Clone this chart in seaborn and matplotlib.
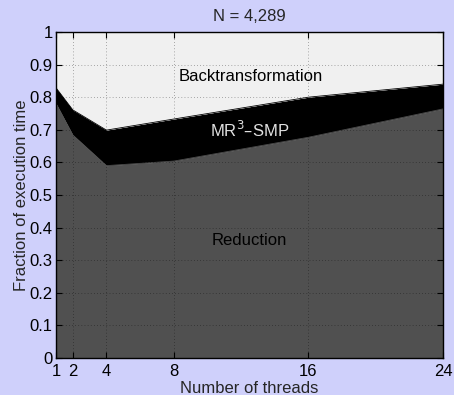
import matplotlib
matplotlib.use("Agg")
import matplotlib.pyplot as plt
import seaborn as sns
import numpy as np
import pandas as pd

# Fraction of total execution time per phase, N = 4,289
threads = [1, 2, 4, 8, 16, 24]
reduction = [0.781, 0.684, 0.590, 0.604, 0.677, 0.764]
mr3_smp = [0.048, 0.077, 0.109, 0.129, 0.123, 0.076]
x_ticks = [1, 2, 4, 8, 16, 24]
y_ticks = [0, 0.1, 0.2, 0.3, 0.4, 0.5, 0.6, 0.7, 0.8, 0.9, 1]
y_tick_labels = ["0", "0.1", "0.2", "0.3", "0.4", "0.5", "0.6", "0.7", "0.8", "0.9", "1"]

sns.set_style("ticks")
plt.rcParams["font.family"] = ["Liberation Sans", "DejaVu Sans"]

fs = 12
bg = "#cfd0fb"
fig = plt.figure(figsize=(4.54, 3.95), dpi=100, facecolor=bg)
ax = fig.add_axes([0.1233, 0.0937, 0.8525, 0.8253])

df = pd.DataFrame({"threads": threads, "reduction": reduction, "mr3": mr3_smp})
df["upper"] = df["reduction"] + df["mr3"]

ax.fill_between(df["threads"], 0, df["reduction"], color="#505050", lw=0, zorder=1)
ax.fill_between(df["threads"], df["reduction"], df["upper"], color="black", lw=0, zorder=1)
ax.fill_between(df["threads"], df["upper"], 1, color="#f0f0f0", lw=0, zorder=1)
sns.lineplot(data=df, x="threads", y="reduction", ax=ax, color="#505050", lw=0.6, zorder=2)
sns.lineplot(data=df, x="threads", y="upper", ax=ax, color="black", lw=0.6, zorder=2)

ax.set_xlim(1, 24)
ax.set_ylim(0, 1)
ax.set_xticks(x_ticks)
ax.set_xticklabels([str(t) for t in x_ticks])
ax.set_yticks(y_ticks)
ax.set_yticklabels(y_tick_labels)
ax.tick_params(direction="in", length=4, width=0.8, labelsize=fs,
               top=True, right=True, colors="black")
ax.tick_params(axis="x", pad=4.5)
ax.tick_params(axis="y", pad=2.5)
ax.grid(True, linestyle=(0, (1, 3.5)), color="black", lw=0.5, alpha=0.6)
ax.set_axisbelow(False)
for s in ax.spines.values():
    s.set_linewidth(1.0)
    s.set_color("black")
    s.set_zorder(5)

ax.set_xlabel("Number of threads", fontsize=fs, labelpad=1)
ax.set_ylabel("Fraction of execution time", fontsize=fs, labelpad=0)
ax.set_title("N = 4,289", fontsize=fs, pad=8)

ax.text(12.6, 0.865, "Backtransformation", ha="center", va="center", fontsize=fs, color="black", zorder=4)
ax.text(12.5, 0.70, "MR$^3$\u2013SMP", ha="center", va="center", fontsize=fs, color="#e0e0e0", zorder=4)
ax.text(12.5, 0.36, "Reduction", ha="center", va="center", fontsize=fs, color="black", zorder=4)

fig.savefig("out.png", dpi=100, facecolor=bg)
